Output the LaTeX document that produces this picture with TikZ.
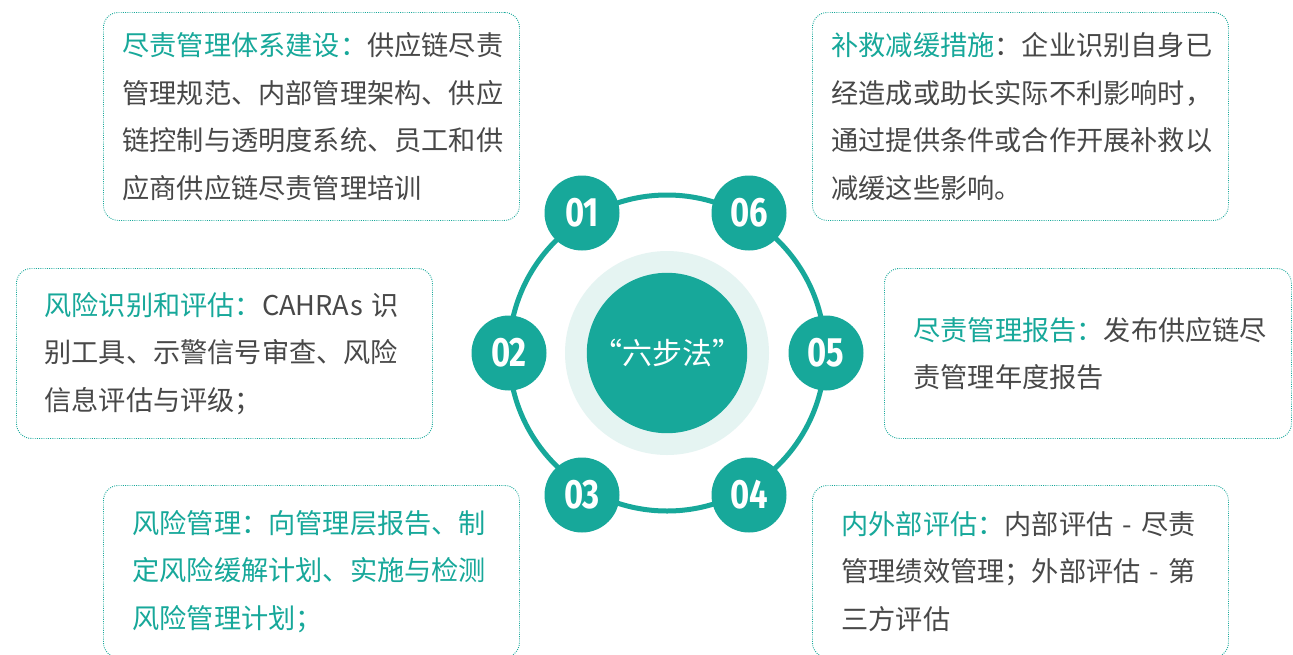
\documentclass[tikz,border=0pt]{standalone}
\usepackage{fontspec}
\setmainfont{Noto Sans CJK SC}
\newfontfamily\numfont[FakeStretch=0.8]{Fira Sans}
\usepackage{xcolor}
\usepackage{tikz}
\usetikzlibrary{positioning}
\definecolor{ddTeal}{RGB}{23,168,154}
\definecolor{ddLight}{RGB}{229,244,242}
\definecolor{ddText}{RGB}{72,72,72}
\newcommand{\hd}[1]{\textcolor{ddTeal}{#1}}
\hfuzz=20pt

\begin{document}
\begin{tikzpicture}[
    x=1pt, y=-1pt,
    note/.style={rectangle, rounded corners=15pt, draw=ddTeal, line width=0.9pt,
        dash pattern=on 0.9pt off 1.3pt, anchor=north west, inner ysep=0pt,
        align=left, text=ddText, font=\fontsize{27.2}{47.5}\selectfont},
    numdot/.style={circle, fill=ddTeal, minimum size=75pt, inner sep=0pt,
        text=white, font=\numfont\bfseries\fontsize{41}{41}\selectfont},
    ring/.style={draw=ddTeal, line width=5pt}
]
    \useasboundingbox (0,0) rectangle (1293,654);
    \fill[white] (0,0) rectangle (1293,654);

    % Ring and centre
    \node[circle, fill=ddLight, minimum size=204pt] (halo) at (667,353) {};
    \draw[ring] (halo.center) circle (158);
    \node[circle, fill=ddTeal, minimum size=150pt, text=white,
        font=\fontsize{30}{30}\selectfont] (core) at (halo.center) {“六步法”};

    % Steps
    \node[numdot] (s1) at (582,213) {01};
    \node[numdot] (s2) at (509,353) {02};
    \node[numdot] (s3) at (582,495) {03};
    \node[numdot] (s4) at (749,495) {04};
    \node[numdot] (s5) at (826,353) {05};
    \node[numdot] (s6) at (749,213) {06};

    % Notes, left side
    \node[note, inner xsep=19pt, text width=378pt, minimum height=208pt] (n1) at (103,12)
        {\hd{尽责管理体系建设：}供应链尽责\\管理规范、内部管理架构、供应\\链控制与透明度系统、员工和供\\应商供应链尽责管理培训};
    \node[note, inner xsep=28pt, text width=360pt, minimum height=170pt] (n2) at (16,268)
        {\hd{风险识别和评估：}CAHRAs 识\\别工具、示警信号审查、风险\\信息评估与评级；};
    \node[note, inner xsep=29pt, text width=358pt, minimum height=172pt, text=ddTeal] (n3) at (103,485)
        {风险管理：向管理层报告、制\\定风险缓解计划、实施与检测\\风险管理计划；};

    % Notes, right side
    \node[note, inner xsep=29pt, text width=358pt, minimum height=172pt] (n4) at (812,485)
        {\hd{内外部评估：}内部评估 - 尽责\\管理绩效管理；外部评估 - 第\\三方评估};
    \node[note, inner xsep=29pt, text width=349pt, minimum height=170pt] (n5) at (884,268)
        {\hd{尽责管理报告：}发布供应链尽\\责管理年度报告};
    \node[note, inner xsep=19pt, text width=378pt, minimum height=208pt] (n6) at (812,12)
        {\hd{补救减缓措施}：企业识别自身已\\经造成或助长实际不利影响时，\\通过提供条件或合作开展补救以\\减缓这些影响。};
\end{tikzpicture}
\end{document}
